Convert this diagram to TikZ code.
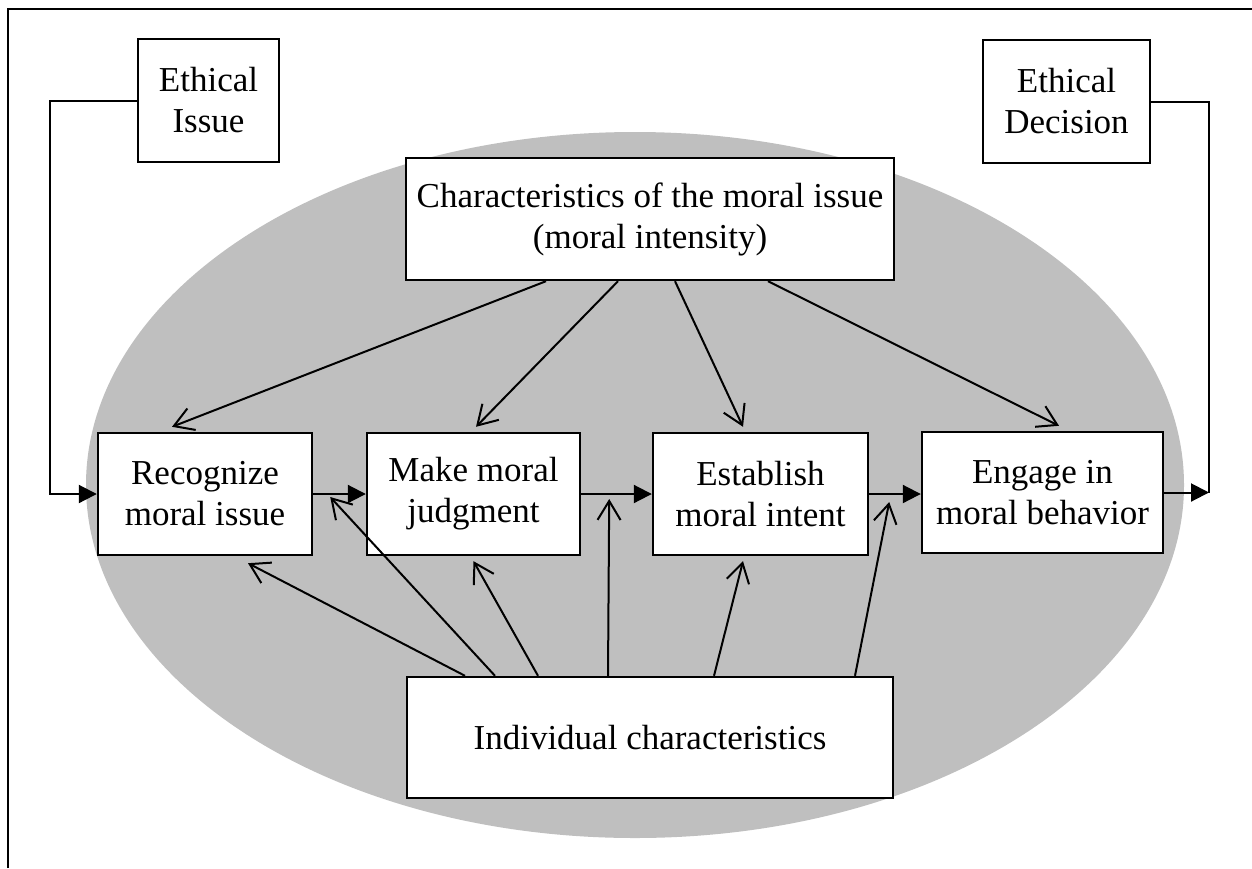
\documentclass[tikz,border=0pt]{standalone}
\usepackage{fontspec}
\setmainfont{Liberation Serif}
\usetikzlibrary{arrows.meta}

\begin{document}
\begin{tikzpicture}[x=1pt,y=-1pt,
  box/.style={draw,line width=2.4pt,fill=white,align=center,inner sep=0pt,
    font=\fontsize{35}{41}\selectfont},
  flow/.style={line width=2pt,-{Triangle[length=18pt,width=18pt]}},
  infl/.style={line width=2pt,-{Straight Barb[length=19pt,width=23pt,line width=2pt]}}]
  \useasboundingbox (0,0) rectangle (1252,868);
  \draw[line width=2.4pt] (8,868) -- (8,9) -- (1252,9);
  \fill[black!25] (635,485) ellipse [x radius=549,y radius=353];

  \node[box,minimum width=141,minimum height=123] (issue) at (208.5,100.5) {Ethical\\Issue};
  \node[box,minimum width=167,minimum height=123] (dec) at (1066.5,101.5) {Ethical\\Decision};
  \node[box,minimum width=488,minimum height=122] (moral) at (650,219)
    {Characteristics of the moral issue\\(moral intensity)};
  \node[box,minimum width=214,minimum height=122] (rec) at (205,494) {Recognize\\moral issue};
  \node[box,minimum width=213,minimum height=122] (judge) at (473.5,494) {Make moral\\judgment};
  \node[box,minimum width=215,minimum height=122] (intent) at (760.5,494) {Establish\\moral intent};
  \node[box,minimum width=241,minimum height=121] (behav) at (1042.5,492.5) {Engage in\\moral behavior};
  \node[box,minimum width=486,minimum height=121] (indiv) at (650,737.5) {Individual characteristics};

  % the four steps
  \coordinate (lin) at (50,494);
  \coordinate (rout) at (1209,492.5);
  \draw[flow] (issue.west) -| (lin) -- (rec.west);
  \draw[flow] (rec.east) -- (judge.west);
  \draw[flow] (judge.east) -- (intent.west);
  \draw[flow] (intent.east) -- (intent.east -| behav.west);
  \draw[flow] (behav.east) -- (rout);
  \draw[line width=2pt] (dec.east) -| (rout);

  % moral intensity
  \foreach \sx/\tgt/\tx in {-104/rec/-33,-32/judge/2.5,25/intent/-17.5,118/behav/16.5}
    \draw[infl] ([xshift=\sx]moral.south) -- ([xshift=\tx,yshift=5]\tgt.north);
  % individual characteristics
  \foreach \sx/\tgt/\tx/\ty in {-185/rec.south/43/-7,-155/rec.east/17/-3,-112/judge.south/0/-5,
      -42/judge.east/28/-5,64/intent.south/-17.5/-5,205/intent.east/20/-8}
    \draw[infl] ([xshift=\sx]indiv.north) -- ([xshift=\tx,yshift=\ty]\tgt);
\end{tikzpicture}
\end{document}
